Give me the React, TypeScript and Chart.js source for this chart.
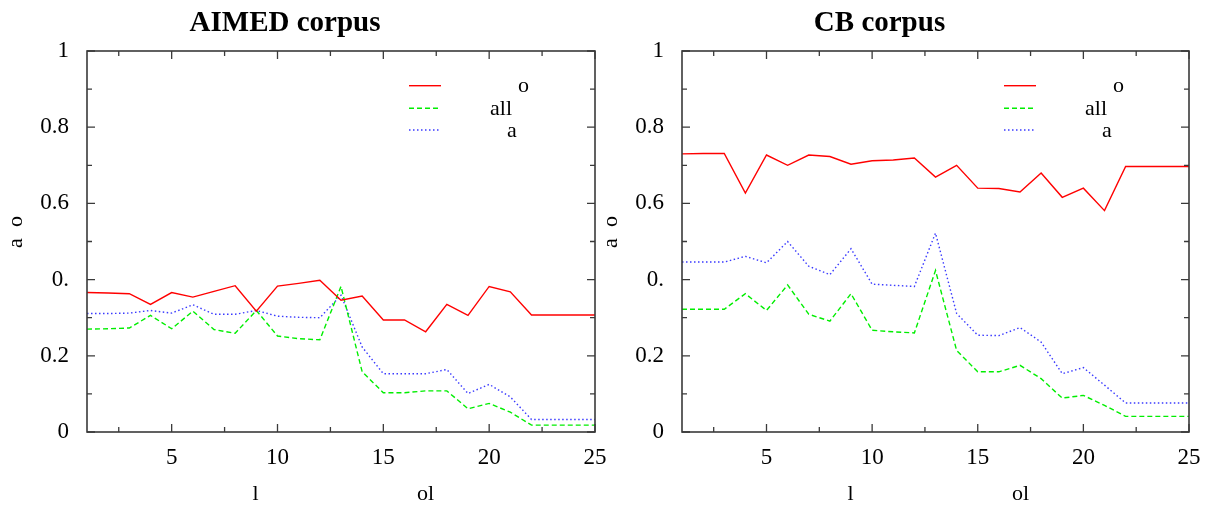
import React, { useEffect, useRef } from "react";
import { Chart, registerables } from "chart.js";

Chart.register(...registerables);

const FONT = "'Liberation Serif', 'DejaVu Serif', serif";

const xValues = [1, 2, 3, 4, 5, 6, 7, 8, 9, 10, 11, 12, 13, 14, 15, 16, 17, 18, 19, 20, 21, 22, 23, 24, 25];
const xTickValues = [2.5, 5, 7.5, 10, 12.5, 15, 17.5, 20, 22.5, 25];
const xTickLabels = ["", "5", "", "10", "", "15", "", "20", "", "25"];
const yTickValues = [0, 0.1, 0.2, 0.3, 0.4, 0.5, 0.6, 0.7, 0.8, 0.9, 1];
const yTickLabels = ["0", "", "0.2", "", "0.", "", "0.6", "", "0.8", "", "1"];

const legendLabels = ["o", "all", "a"];
const xTitleParts = ["l", "ol"];
const yTitle = "a  o";

const aimedTitle = "AIMED corpus";
const aimedO = [0.366, 0.365, 0.363, 0.335, 0.366, 0.354, 0.369, 0.384, 0.317, 0.383, 0.39, 0.398, 0.346, 0.357, 0.294, 0.294, 0.263, 0.335, 0.306, 0.382, 0.368, 0.307, 0.307, 0.307, 0.307];
const aimedAll = [0.27, 0.271, 0.273, 0.306, 0.271, 0.317, 0.269, 0.259, 0.319, 0.252, 0.245, 0.242, 0.382, 0.158, 0.103, 0.103, 0.108, 0.108, 0.061, 0.075, 0.052, 0.018, 0.018, 0.018, 0.018];
const aimedA = [0.311, 0.311, 0.312, 0.319, 0.312, 0.334, 0.309, 0.309, 0.319, 0.304, 0.301, 0.3, 0.359, 0.223, 0.153, 0.153, 0.153, 0.164, 0.101, 0.125, 0.092, 0.033, 0.033, 0.033, 0.033];

const cbTitle = "CB corpus";
const cbO = [0.73, 0.731, 0.731, 0.627, 0.727, 0.7, 0.727, 0.723, 0.703, 0.712, 0.714, 0.719, 0.669, 0.7, 0.64, 0.639, 0.63, 0.68, 0.616, 0.64, 0.581, 0.697, 0.697, 0.697, 0.697];
const cbAll = [0.322, 0.322, 0.322, 0.363, 0.319, 0.386, 0.309, 0.291, 0.363, 0.267, 0.263, 0.26, 0.424, 0.214, 0.158, 0.158, 0.175, 0.14, 0.089, 0.096, 0.07, 0.041, 0.041, 0.041, 0.041];
const cbA = [0.446, 0.446, 0.446, 0.461, 0.444, 0.5, 0.435, 0.413, 0.481, 0.388, 0.385, 0.382, 0.522, 0.311, 0.254, 0.253, 0.274, 0.236, 0.153, 0.169, 0.123, 0.076, 0.076, 0.076, 0.076];

const W = 1207;
const H = 507;

const seriesStyles = [
  { color: "#ff0000", dash: [] as number[] },
  { color: "#00ee00", dash: [5, 3] },
  { color: "#3a3aff", dash: [1.5, 2.5] },
];

function toPoints(vals: number[]) {
  return xValues.map((x, i) => ({ x, y: vals[i] }));
}

const decorPlugin = {
  id: "gnuDecor",
  afterDatasetsDraw(chart: any) {
    const ctx = chart.ctx;
    const a = chart.chartArea;
    const xs = chart.scales.x;
    const ys = chart.scales.y;
    const title = chart.options.plugins.gnuDecor.title;
    ctx.save();
    // frame
    ctx.strokeStyle = "#3a3a3a";
    ctx.lineWidth = 1.6;
    ctx.setLineDash([]);
    ctx.strokeRect(a.left, a.top, a.right - a.left, a.bottom - a.top);
    // ticks
    ctx.lineWidth = 1.3;
    ctx.beginPath();
    xTickValues.forEach((v, i) => {
      const px = xs.getPixelForValue(v);
      const len = xTickLabels[i] ? 8 : 5;
      ctx.moveTo(px, a.bottom);
      ctx.lineTo(px, a.bottom - len);
      ctx.moveTo(px, a.top);
      ctx.lineTo(px, a.top + len);
    });
    yTickValues.forEach((v, i) => {
      const py = ys.getPixelForValue(v);
      const len = yTickLabels[i] ? 8 : 5;
      ctx.moveTo(a.left, py);
      ctx.lineTo(a.left + len, py);
      ctx.moveTo(a.right, py);
      ctx.lineTo(a.right - len, py);
    });
    ctx.stroke();

    // legend
    ctx.font = `22px ${FONT}`;
    ctx.fillStyle = "#000";
    ctx.textBaseline = "alphabetic";
    ctx.textAlign = "left";
    const lineY = [34.7, 57.3, 79];
    const textX = [431, 403, 420];
    legendLabels.forEach((lab, i) => {
      const st = seriesStyles[i];
      ctx.strokeStyle = st.color;
      ctx.lineWidth = 1.4;
      ctx.setLineDash(st.dash);
      ctx.beginPath();
      ctx.moveTo(a.left + 322, a.top + lineY[i]);
      ctx.lineTo(a.left + 354, a.top + lineY[i]);
      ctx.stroke();
      ctx.fillText(lab, a.left + textX[i], a.top + lineY[i] + 6.5);
    });
    ctx.setLineDash([]);

    // title
    ctx.font = `bold 29px ${FONT}`;
    ctx.textAlign = "center";
    ctx.fillText(title, (a.left + a.right) / 2 - 56, 31);

    // x title
    ctx.font = `22px ${FONT}`;
    ctx.textAlign = "left";
    ctx.fillText(xTitleParts[0], a.left + 165.5, 500);
    ctx.fillText(xTitleParts[1], a.left + 330, 500);

    // y title
    ctx.translate(a.left - 71, 232);
    ctx.rotate(-Math.PI / 2);
    ctx.textAlign = "center";
    ctx.textBaseline = "middle";
    ctx.fillText(yTitle, 0, 0);
    ctx.restore();
  },
};

function makeConfig(title: string, o: number[], all: number[], aa: number[], padLeft: number, padRight: number): any {
  const vals = [o, all, aa];
  return {
    type: "line",
    data: {
      datasets: vals.map((v, i) => ({
        label: legendLabels[i],
        data: toPoints(v),
        borderColor: seriesStyles[i].color,
        borderDash: seriesStyles[i].dash,
        borderWidth: 1.4,
        pointRadius: 0,
        tension: 0,
        fill: false,
      })),
    },
    options: {
      animation: false,
      responsive: false,
      maintainAspectRatio: false,
      layout: { padding: { left: padLeft, right: padRight, top: 51, bottom: 0 } },
      plugins: {
        legend: { display: false },
        tooltip: { enabled: false },
        title: { display: false },
        gnuDecor: { title },
      },
      scales: {
        x: {
          type: "linear",
          min: 1,
          max: 25,
          grid: { display: false, drawTicks: false },
          border: { display: false },
          afterBuildTicks: (s: any) => {
            s.ticks = xTickValues.map((v) => ({ value: v }));
          },
          afterFit: (s: any) => {
            s.height = H - 432;
            s.paddingLeft = 0;
            s.paddingRight = 0;
          },
          ticks: {
            autoSkip: false,
            maxRotation: 0,
            minRotation: 0,
            padding: 12,
            color: "#000",
            font: { family: FONT, size: 23 },
            callback: (_v: any, i: number) => xTickLabels[i],
          },
        },
        y: {
          type: "linear",
          min: 0,
          max: 1,
          grid: { display: false, drawTicks: false },
          border: { display: false },
          afterBuildTicks: (s: any) => {
            s.ticks = yTickValues.map((v) => ({ value: v }));
          },
          afterFit: (s: any) => {
            s.width = 87;
            s.paddingTop = 0;
            s.paddingBottom = 0;
          },
          ticks: {
            autoSkip: false,
            padding: 18,
            color: "#000",
            font: { family: FONT, size: 23 },
            callback: (_v: any, i: number) => yTickLabels[i],
          },
        },
      },
    },
    plugins: [decorPlugin],
  };
}

function Panel(props: { title: string; o: number[]; all: number[]; a: number[]; padLeft: number; padRight: number }) {
  const ref = useRef<HTMLCanvasElement | null>(null);
  useEffect(() => {
    if (!ref.current) return;
    const chart = new Chart(ref.current, makeConfig(props.title, props.o, props.all, props.a, props.padLeft, props.padRight));
    return () => chart.destroy();
  }, []);
  return (
    <canvas
      ref={ref}
      width={W}
      height={H}
      style={{ position: "absolute", left: 0, top: 0, width: W, height: H }}
    />
  );
}

export default function App() {
  return (
    <div style={{ position: "absolute", left: 0, top: 0, width: W, height: H, background: "#fff", overflow: "hidden" }}>
      <Panel title={aimedTitle} o={aimedO} all={aimedAll} a={aimedA} padLeft={0} padRight={W - 595} />
      <Panel title={cbTitle} o={cbO} all={cbAll} a={cbA} padLeft={682 - 87} padRight={W - 1189} />
    </div>
  );
}
